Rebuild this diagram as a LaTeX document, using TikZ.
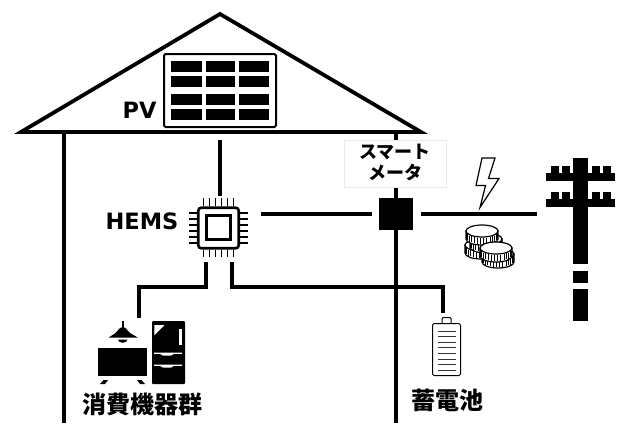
\documentclass[tikz,border=0pt]{standalone}
\usepackage{fontspec}
\setmainfont{DejaVu Sans}
\newfontfamily\cjk{Noto Sans CJK JP}
\definecolor{labelrim}{RGB}{232,232,232}
\begin{document}
\begin{tikzpicture}[
  x=1pt,y=-1pt,
  wire/.style={draw=black,line width=3.6pt,line join=miter},
  thinwire/.style={draw=black,line width=1.2pt},
  cell/.style={fill=black},
  pin/.style={line width=1.7pt},
  lab/.style={inner sep=0pt,font=\fontsize{22.5}{24}\selectfont\bfseries},
  jplab/.style={inner sep=0pt,font=\fontsize{24}{26}\selectfont\cjk\bfseries},
  metlab/.style={inner sep=0pt,font=\fontsize{18}{18}\selectfont\cjk\bfseries},
  coin/.pic={
    \draw[thinwire,fill=white] (-16,0) -- (-16,8) arc[start angle=180,end angle=0,x radius=16,y radius=6] -- (16,0) -- cycle;
    \foreach \a in {12,24,...,168} {
      \draw[line width=1pt] ({16*cos(\a)},{6*sin(\a)+1}) -- ({16*cos(\a)},{6*sin(\a)+7});
    }
    \draw[thinwire,fill=white] (0,0) ellipse [x radius=16,y radius=6];
  }
]
\useasboundingbox (0,0) rectangle (621,423);
\fill[white] (0,0) rectangle (621,423);
\coordinate (apex) at (220,14);
\coordinate (eaveL) at (21,132);
\coordinate (eaveR) at (421,132);
\draw[wire,line width=3.8pt] (eaveL) -- (apex) -- (eaveR) -- cycle;
\draw[wire] (64,132) -- (64,423);
\draw[wire] (396,132) -- (396,423);
\node[draw=black,line width=2pt,fill=white,rounded corners=1.5pt,minimum width=112pt,minimum height=73pt,inner sep=0pt] (panel) at (220,90.5) {};
\foreach \cx/\cw in {171/31,206/29,239/30} {
  \foreach \cy/\ch in {61/11,76/11,94/11,109/11} {
    \fill[cell] (\cx,\cy) rectangle ++(\cw,\ch);
  }
}
\node[lab] (pv) at (139.5,110) {PV};
\node[draw=labelrim,line width=0.6pt,fill=white,minimum width=102pt,minimum height=47pt,inner sep=0pt] (metertext) at (395.5,164) {};
\node[metlab] (sumato) at (395,152) {スマート};
\node[metlab] (meta) at (395,173) {メータ};
\node[fill=black,minimum width=34pt,minimum height=32pt,inner sep=0pt] (meter) at (396,214) {};
\node[draw=black,line width=2.6pt,fill=white,rounded corners=3pt,minimum width=40.5pt,minimum height=40.5pt,inner sep=0pt] (chip) at (218.5,228) {};
\node[draw=black,line width=2.2pt,minimum width=24pt,minimum height=24pt,inner sep=0pt] (core) at (218.5,227.5) {};
\foreach \p in {-15,-9,...,15} {
  \draw[pin] ([xshift=\p pt]chip.north) -- ++(0,-8);
  \draw[pin] ([xshift=\p pt]chip.south) -- ++(0,7.5);
  \draw[pin] ([yshift=\p pt]chip.west) -- ++(-8,0);
  \draw[pin] ([yshift=\p pt]chip.east) -- ++(7.5,0);
}
\node[lab] (hems) at (142,221) {HEMS};
\coordinate (panelend) at (220,140);
\coordinate (chiptop) at (220,196);
\coordinate (chipright) at (261,214);
\coordinate (meterleft) at (372,214);
\coordinate (meterright) at (421,214);
\coordinate (poleend) at (537,214);
\coordinate (loadout) at (206,262);
\coordinate (loadin) at (139,318);
\coordinate (battout) at (232,262);
\coordinate (battin) at (443,313);
\draw[wire] (panelend) -- (chiptop);
\draw[wire] (chipright) -- (meterleft);
\draw[wire] (meterright) -- (poleend);
\draw[wire] (loadout) |- (139,287) -- (loadin);
\draw[wire] (battout) |- (443,287) -- (battin);
\draw[thinwire,fill=white,line join=miter] (482,158) -- (495,158) -- (488.5,178.5) -- (499,178.5) -- (480,207.5) -- (485.5,185.5) -- (476,185.5) -- cycle;
\pic at (481,245) {coin};
\pic at (486,239) {coin};
\pic at (482,231) {coin};
\pic at (498,254) {coin};
\pic at (496,248) {coin};
\fill (573,158) rectangle (588,264);
\fill (573,271) rectangle (588,283);
\fill (573,289) rectangle (588,321);
\foreach \ay in {173,199} {
  \fill (546,\ay) rectangle (615,\ay+8);
  \foreach \ax in {551,562,592,603} {
    \fill (\ax,\ay-7) rectangle (\ax+8,\ay);
  }
}
\fill (121.7,321) rectangle (123.7,329);
\fill (120.5,327.5) -- (125,327.5) -- (130,333) -- (138,337.7) -- (108.5,337.7) -- (115.5,333) -- cycle;
\fill (118,339.5) arc[start angle=180,end angle=0,x radius=4.7,y radius=3.3] -- cycle;
\fill (98,348) rectangle (147,376);
\fill (100,384) -- (103.5,380) -- (108,380) -- (105,384) -- cycle;
\fill (137,380) -- (141.5,380) -- (145,384) -- (140,384) -- cycle;
\fill[rounded corners=1pt] (152,321) rectangle (185,384);
\fill[white] (154.3,325) -- (164.7,325) -- (154.3,335.3) -- cycle;
\fill[white] (179.3,329) rectangle (182,345);
\fill[white] (154,352.6) -- (182,352.6) -- (182,353.8) -- (174,353.8) -- (171,355.6) -- (163,355.6) -- (160,353.8) -- (154,353.8) -- cycle;
\fill[white] (154,364.6) -- (182,364.6) -- (182,365.8) -- (174,365.8) -- (171,367.6) -- (163,367.6) -- (160,365.8) -- (154,365.8) -- cycle;
\node[jplab] (loads) at (142,404) {消費機器群};
\node[draw=black,line width=1pt,fill=white,rounded corners=1.5pt,minimum width=28pt,minimum height=52pt,inner sep=0pt] (batt) at (446.5,349.5) {};
\draw[line width=1pt,rounded corners=1pt] (442,323) -- (442,317.5) -- (451,317.5) -- (451,323);
\foreach \ly in {331,336.6,...,371} {
  \draw[line width=1pt,black!80] (438,\ly) -- (456,\ly);
}
\node[jplab] (storage) at (447,400) {蓄電池};
\end{tikzpicture}
\end{document}
